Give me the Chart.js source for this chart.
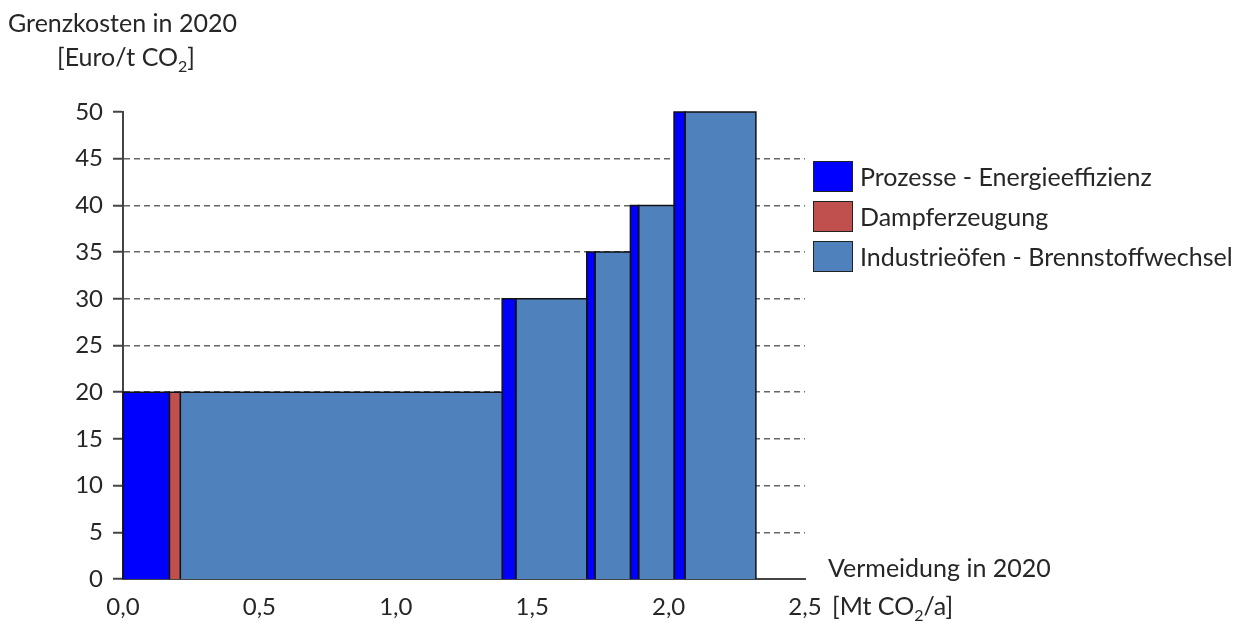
<!DOCTYPE html>
<html lang="de">
<head>
    <meta charset="UTF-8">
    <title>Grenzkosten der CO2-Vermeidung 2020</title>
    <style>
        body {
            margin: 0;
            background: white;
            font-family: Lato, "Open Sans", sans-serif;
            color: #262626;
        }
        .wrap {
            position: relative;
            width: 1246px;
            height: 635px;
        }
        .label {
            position: absolute;
            font-size: 25px;
            white-space: nowrap;
            line-height: 1;
        }
        .label sub {
            font-size: 16px;
            line-height: 0;
        }
        .legend-item {
            position: absolute;
            left: 813px;
            font-size: 25px;
            line-height: 1;
            white-space: nowrap;
        }
        .legend-item span.box {
            position: absolute;
            left: 0;
            top: 0;
            width: 38px;
            height: 29px;
            border: 1.5px solid #222;
        }
        .legend-item span.txt {
            position: absolute;
            left: 47px;
            top: 3px;
        }
    </style>
</head>
<body>
    <div class="wrap">
        <canvas id="mac" width="1246" height="635"></canvas>
        <div class="label" style="left:8px; top:10px;">Grenzkosten in 2020</div>
        <div class="label" style="left:57px; top:44px;">[Euro/t CO<sub>2</sub>]</div>
        <div class="label" style="left:828px; top:555px;">Vermeidung in 2020</div>
        <div class="label" style="left:832px; top:593px;">[Mt CO<sub>2</sub>/a]</div>
        <div id="legend"></div>
    </div>

    <script src="https://cdn.jsdelivr.net/npm/chart.js"></script>
    <script>
        // Kategorien der Maßnahmen
        const categories = ['Prozesse - Energieeffizienz', 'Dampferzeugung', 'Industrieöfen - Brennstoffwechsel'];
        const categoryColors = ['#0000ff', '#c0504d', '#4f81bd'];

        // Maßnahmen in Reihenfolge der Kostenkurve
        const measureCategory = [0, 1, 2, 0, 2, 0, 2, 0, 2, 0, 2];
        const abatement = [0.17, 0.04, 1.18, 0.05, 0.26, 0.03, 0.13, 0.03, 0.13, 0.04, 0.26]; // Mt CO2/a
        const marginalCost = [20, 20, 20, 30, 30, 35, 35, 40, 40, 50, 50]; // Euro/t CO2

        const xTicks = [0, 0.5, 1.0, 1.5, 2.0, 2.5];
        const yTicks = [0, 5, 10, 15, 20, 25, 30, 35, 40, 45, 50];

        // one rectangle per measure, built as a filled line
        const datasets = [];
        let start = 0;
        for (let i = 0; i < abatement.length; i++) {
            const end = start + abatement[i];
            const c = measureCategory[i];
            datasets.push({
                label: categories[c],
                data: [
                    { x: start, y: 0 },
                    { x: start, y: marginalCost[i] },
                    { x: end, y: marginalCost[i] },
                    { x: end, y: 0 }
                ],
                backgroundColor: categoryColors[c],
                borderColor: '#111',
                borderWidth: 1.5,
                fill: 'origin',
                pointRadius: 0,
                tension: 0,
                clip: 4
            });
            start = end;
        }

        // legend
        const legend = document.getElementById('legend');
        categories.forEach((name, i) => {
            const item = document.createElement('div');
            item.className = 'legend-item';
            item.style.top = (161 + i * 40) + 'px';
            item.innerHTML = '<span class="box" style="background:' + categoryColors[i] + '"></span><span class="txt">' + name + '</span>';
            legend.appendChild(item);
        });

        new Chart(document.getElementById('mac'), {
            type: 'line',
            data: { datasets: datasets },
            options: {
                responsive: false,
                animation: false,
                layout: {
                    padding: { top: 112, right: 441, left: 0, bottom: 0 }
                },
                plugins: {
                    legend: { display: false },
                    tooltip: { enabled: false }
                },
                scales: {
                    x: {
                        type: 'linear',
                        min: 0,
                        max: 2.5,
                        afterBuildTicks: scale => {
                            scale.ticks = xTicks.map(v => ({ value: v }));
                        },
                        afterFit: scale => { scale.height = 56; },
                        grid: { display: false, drawTicks: false },
                        border: { display: true, color: '#444', width: 2 },
                        ticks: {
                            padding: 14,
                            color: '#262626',
                            font: { family: 'Lato', size: 24 },
                            callback: v => v.toFixed(1).replace('.', ',')
                        }
                    },
                    y: {
                        min: 0,
                        max: 50,
                        afterBuildTicks: scale => {
                            scale.ticks = yTicks.map(v => ({ value: v }));
                        },
                        afterFit: scale => { scale.width = 123; },
                        grid: {
                            color: ctx => (ctx.tick && (ctx.tick.value === 0 || ctx.tick.value === 50)) ? 'rgba(0,0,0,0)' : '#666',
                            lineWidth: 1.5,
                            tickColor: '#444',
                            tickLength: 10,
                            tickWidth: 2,
                            tickBorderDash: []
                        },
                        border: { display: true, color: '#444', width: 2, dash: [6, 4] },
                        ticks: {
                            padding: 10,
                            color: '#262626',
                            font: { family: 'Lato', size: 24 }
                        }
                    }
                }
            }
        });
    </script>
</body>
</html>
